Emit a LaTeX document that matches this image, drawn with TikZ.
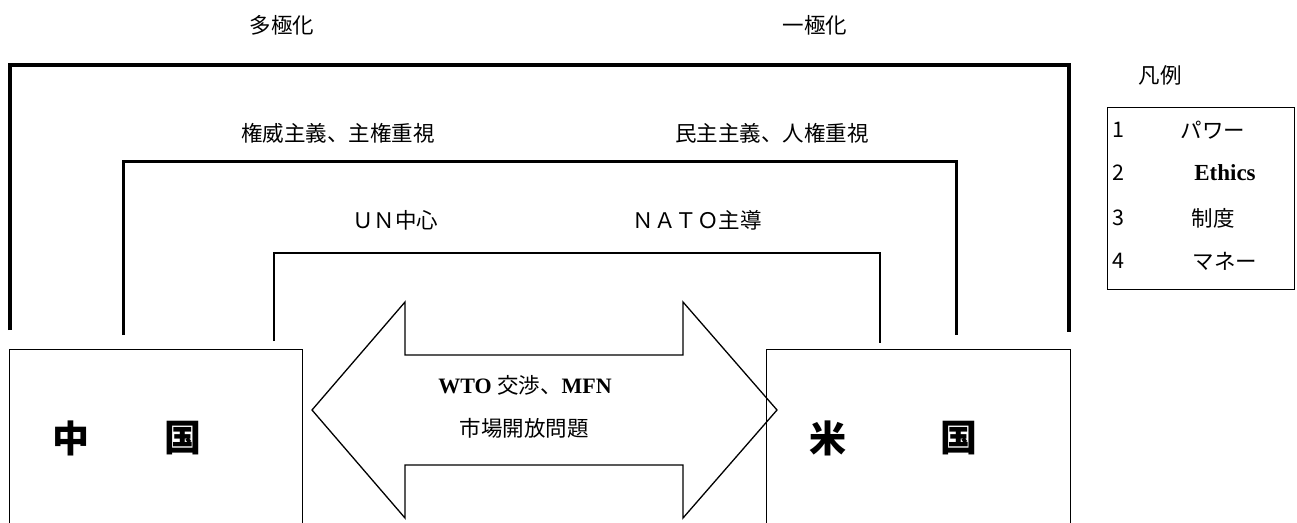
\documentclass[tikz,border=0pt]{standalone}
\usepackage{fontspec}
\setmainfont{Noto Sans CJK JP}
\newfontfamily\serifb{Liberation Serif}
\begin{document}
\begin{tikzpicture}[x=1pt,y=-1pt,
  lbl/.style={font=\fontsize{21.5}{24}\selectfont, inner sep=0pt},
  big/.style={font=\fontsize{37}{40}\selectfont\bfseries, inner sep=0pt},
  country/.style={draw, line width=1.4pt, anchor=north west, inner sep=0pt},
  outerbr/.style={line width=4.5pt},
  midbr/.style={line width=3pt},
  innerbr/.style={line width=1.1pt},
  arrowshape/.style={line width=1.3pt, line join=miter},
  ser/.style={font=\serifb\bfseries\fontsize{23}{26}\selectfont, inner sep=0pt}
]
\useasboundingbox (0,0) rectangle (1297,522);
\clip (0,0) rectangle (1297,522);

% country boxes
\node[country, minimum width=293pt, minimum height=200pt] (cn) at (9,349) {};
\node[country, minimum width=304pt, minimum height=200pt] (us) at (766,349) {};
\node[big] (cn1) at (71,438) {中};
\node[big] (cn2) at (183,438) {国};
\node[big] (us1) at (828,438) {米};
\node[big] (us2) at (959,438) {国};

% brackets
\coordinate (o1) at (10,330);
\coordinate (o2) at (10,65);
\coordinate (o3) at (1069,65);
\coordinate (o4) at (1069,332);
\draw[outerbr, line join=miter] (o1) -- (o2) -- (o3) -- (o4);
\coordinate (m1) at (123,335);
\coordinate (m2) at (123,161);
\coordinate (m3) at (956,161);
\coordinate (m4) at (956,335);
\draw[midbr, line join=miter] (m1) -- (m2) -- (m3) -- (m4);
\coordinate (i1) at (274,341);
\coordinate (i2) at (274,253);
\coordinate (i3) at (880,253);
\coordinate (i4) at (880,343);
\draw[innerbr, line join=miter] (i1) -- (i2) -- (i3) -- (i4);

% labels
\node[lbl] (l1) at (282,25) {多極化};
\node[lbl] (l2) at (815,25) {一極化};
\node[lbl] (l3) at (338,133) {権威主義、主権重視};
\node[lbl] (l4) at (772,133) {民主主義、人権重視};
\node[lbl] (l5) at (395,220) {ＵＮ中心};
\node[lbl] (l6) at (697,220) {ＮＡＴＯ主導};

% double arrow
\coordinate (aL) at (312,410);
\coordinate (aR) at (777,410);
\draw[arrowshape] (aL) -- (405,302) -- (405,355) -- (683,355) -- (683,302)
  -- (aR) -- (683,518) -- (683,465) -- (405,465) -- (405,518) -- cycle;
\node[inner sep=0pt] (w1) at (525,385) {{\serifb\bfseries\fontsize{22}{24}\selectfont WTO }{\fontsize{21.5}{24}\selectfont 交渉、}{\serifb\bfseries\fontsize{22}{24}\selectfont MFN}};
\node[lbl] (w2) at (524,428) {市場開放問題};

% legend
\node[lbl] (lg) at (1160,75) {凡例};
\node[draw, line width=1.3pt, anchor=north west, minimum width=187pt, minimum height=182pt, inner sep=0pt] (legend) at (1107,107) {};
\node[lbl] (n1) at (1118,130) {1};
\node[lbl] (n2) at (1118,173) {2};
\node[lbl] (n3) at (1118,218) {3};
\node[lbl] (n4) at (1118,261) {4};
\node[lbl] (t1) at (1213,130) {パワー};
\node[ser] (t2) at (1225,173) {Ethics};
\node[lbl] (t3) at (1213,218) {制度};
\node[lbl] (t4) at (1225,261) {マネー};
\end{tikzpicture}
\end{document}
